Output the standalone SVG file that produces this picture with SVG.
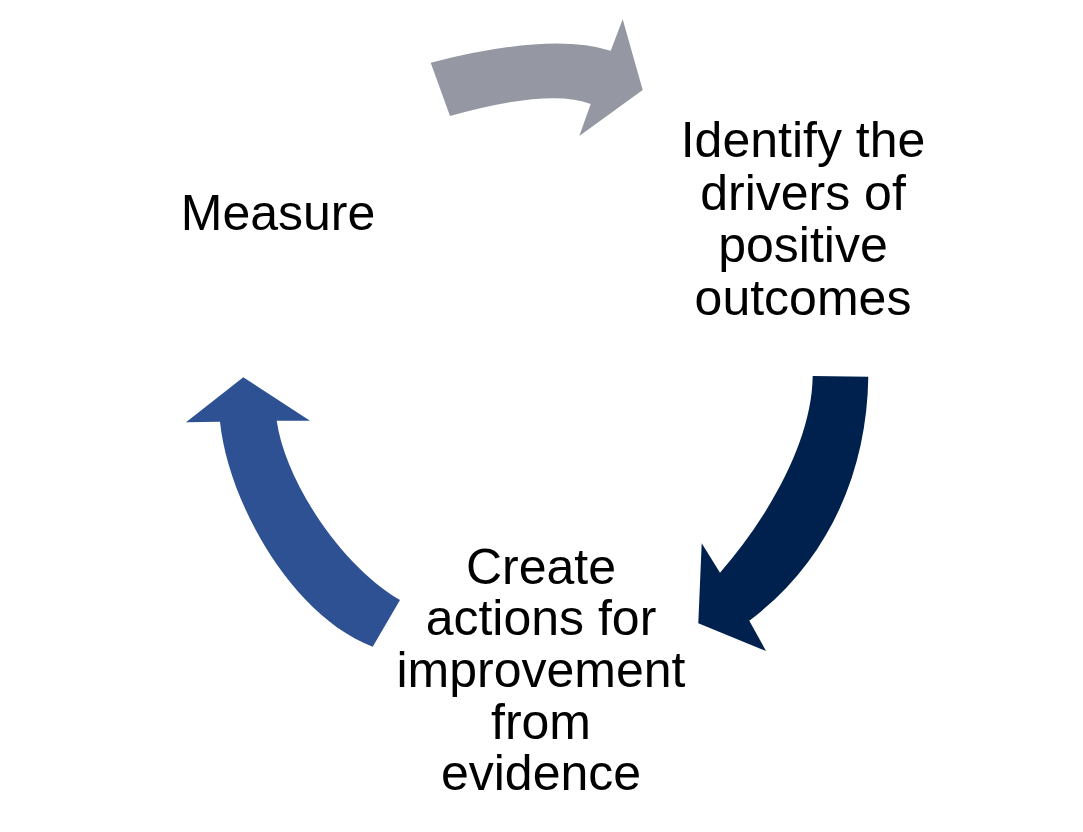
<svg xmlns="http://www.w3.org/2000/svg" width="1083" height="832" viewBox="0 0 1083 832">
<style>
.lbl{font-family:"Liberation Sans",Arial,sans-serif;font-size:50px;fill:#000;text-anchor:middle}
</style>
<rect width="1083" height="832" fill="#fff"/>
<g id="connectors">
<path id="arrow-measure-identify" fill="#9598A3" d="M430.7,62.7 Q550,32 610.7,50.7 L622.7,19.3 L642.7,90 L579.3,136 L590.7,104 Q550,88 450,116 Z"/>
<path id="arrow-identify-create" fill="#00204D" d="M812.7,376 L868.3,376.7 C867,470 830,560 749.3,620.7 L766,651 L698.3,623.3 L701.7,543.3 L720,572.7 C770,515 812,440 812.7,376 Z"/>
<path id="arrow-create-measure" fill="#2E5194" d="M372.7,646.7 C290,615 228,500 220,421.7 L186,422.3 L243.3,377.3 L310,420.7 L276.7,420.7 C285,480 340,565 400,600 Z"/>
</g>
<g id="node-measure"><text class="lbl" x="278" y="229.5">Measure</text></g>
<g id="node-identify">
<text class="lbl" x="803" y="157">Identify the</text>
<text class="lbl" x="803" y="209.5">drivers of</text>
<text class="lbl" x="803" y="262">positive</text>
<text class="lbl" x="803" y="314.5">outcomes</text>
</g>
<g id="node-create">
<text class="lbl" x="541" y="583.5">Create</text>
<text class="lbl" x="541" y="635">actions for</text>
<text class="lbl" x="541" y="687">improvement</text>
<text class="lbl" x="541" y="738.5">from</text>
<text class="lbl" x="541" y="790">evidence</text>
</g>
</svg>
